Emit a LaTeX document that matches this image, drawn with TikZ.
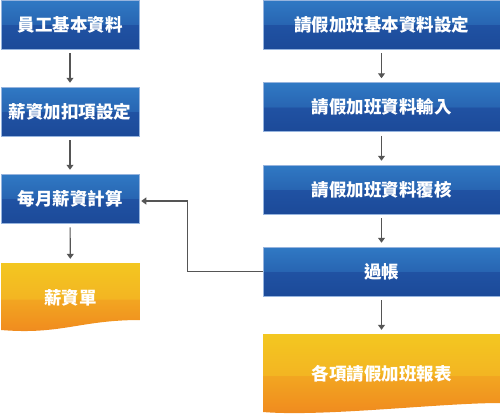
\documentclass[tikz,border=0pt]{standalone}
\usepackage{fontspec}
\setmainfont{Noto Sans CJK TC}
\usetikzlibrary{arrows.meta}

\definecolor{blueA}{RGB}{48,121,196}
\definecolor{blueB}{RGB}{40,101,178}
\definecolor{blueC}{RGB}{32,82,163}
\definecolor{blueD}{RGB}{28,74,153}
\definecolor{blueEdge}{RGB}{150,180,222}
\definecolor{orgA}{RGB}{243,199,33}
\definecolor{orgB}{RGB}{243,181,34}
\definecolor{orgC}{RGB}{242,166,33}
\definecolor{orgD}{RGB}{240,136,30}
\definecolor{linkgray}{RGB}{85,85,85}

\pgfdeclareverticalshading{bluebar}{100bp}{color(0bp)=(blueD); color(25bp)=(blueD); color(49.9bp)=(blueC); color(50.1bp)=(blueB); color(75bp)=(blueA); color(100bp)=(blueA)}
\pgfdeclareverticalshading{orangebar}{100bp}{color(0bp)=(orgD); color(25bp)=(orgD); color(49.9bp)=(orgC); color(50.1bp)=(orgB); color(75bp)=(orgA); color(100bp)=(orgA)}

\tikzset{
    stagebox/.style={rectangle, shading=bluebar, draw=blueEdge, line width=0.5pt,
        minimum height=49pt, inner sep=0pt, text=white, font=\bfseries\fontsize{17.5}{19}\selectfont},
    paperbox/.style={rectangle, inner sep=0pt, text=white, font=\bfseries\fontsize{17.5}{19}\selectfont,
        path picture={
            \shade[shading=orangebar] (path picture bounding box.north west)
                -- (path picture bounding box.north east)
                -- ([yshift=#1]path picture bounding box.south east)
                .. controls ([xshift=-60pt,yshift=#1]path picture bounding box.south east)
                and ([xshift=60pt,yshift=-2pt]path picture bounding box.south west)
                .. ([yshift=3pt]path picture bounding box.south west) -- cycle;
        }},
    flow/.style={-{Triangle[width=7pt,length=5pt]}, linkgray, line width=1.1pt, shorten <=4pt, shorten >=4pt}
}

\begin{document}
\begin{tikzpicture}[x=1pt,y=-1pt]
    \useasboundingbox (0,0) rectangle (500,416);
    % left column
    \node[stagebox, minimum width=138pt] (emp) at (70,24.5) {員工基本資料};
    \node[stagebox, minimum width=138pt] (item) at (70,111.5) {薪資加扣項設定};
    \node[stagebox, minimum width=138pt] (calc) at (70,198.5) {每月薪資計算};
    \node[paperbox=13pt, minimum width=139pt, minimum height=70pt] (slip) at (70.5,298) {薪資單};
    % right column
    \node[stagebox, minimum width=237pt] (base) at (381.5,24.5) {請假加班基本資料設定};
    \node[stagebox, minimum width=237pt] (input) at (381.5,107) {請假加班資料輸入};
    \node[stagebox, minimum width=237pt] (check) at (381.5,189.5) {請假加班資料覆核};
    \node[stagebox, minimum width=237pt] (post) at (381.5,271.5) {過帳};
    \node[paperbox=12pt, minimum width=237pt, minimum height=81pt] (report) at (381.5,374.5) {\raisebox{4pt}{各項請假加班報表}};

    \draw[flow] (emp) -- (item);
    \draw[flow] (item) -- (calc);
    \draw[flow] (calc) -- (slip);
    \draw[flow] (base) -- (input);
    \draw[flow] (input) -- (check);
    \draw[flow] (check) -- (post);
    \draw[flow] (post) -- (report);
    \draw[flow, shorten <=0pt, shorten >=2pt] (post.west) -- ++(-75,0) |- ([yshift=-2.5pt]calc.east);
\end{tikzpicture}
\end{document}
